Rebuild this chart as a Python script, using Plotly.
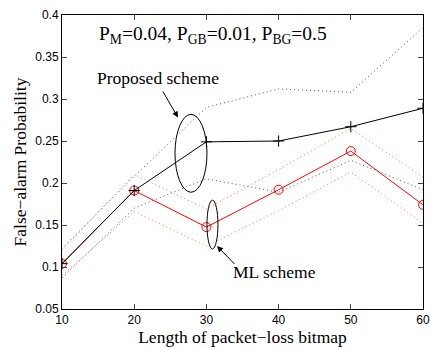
import plotly.graph_objects as go

# Bitmap lengths and false-alarm probabilities
lengths = [10, 20, 30, 40, 50, 60]
proposed = [0.104, 0.191, 0.249, 0.250, 0.267, 0.289]
proposed_upper = [0.122, 0.208, 0.290, 0.312, 0.308, 0.385]
proposed_lower = [0.087, 0.170, 0.205, 0.189, 0.227, 0.192]
ml = [0.104, 0.191, 0.1475, 0.192, 0.238, 0.174]
ml_upper = [0.120, 0.210, 0.169, 0.216, 0.265, 0.207]
ml_lower = [0.090, 0.166, 0.125, 0.167, 0.213, 0.152]

x_ticks = [10, 20, 30, 40, 50, 60]
y_ticks = [0.05, 0.1, 0.15, 0.2, 0.25, 0.3, 0.35, 0.4]
y_tick_text = ["0.05", "0.1", "0.15", "0.2", "0.25", "0.3", "0.35", "0.4"]

serif = "Liberation Serif"
sans = "Liberation Sans"

fig = go.Figure()

dot = "1px,3px"
for ys, col in [(proposed_upper, "#555555"), (proposed_lower, "#555555"),
                (ml_upper, "#ff6666"), (ml_lower, "#ff6666")]:
    fig.add_trace(go.Scatter(x=lengths, y=ys, mode="lines",
                             line=dict(color=col, width=1, dash=dot),
                             showlegend=False, hoverinfo="skip"))

fig.add_trace(go.Scatter(x=lengths, y=ml, mode="lines+markers",
                         line=dict(color="#ff0000", width=1),
                         marker=dict(symbol="circle-open", size=9,
                                     color="#ff0000", line=dict(width=1)),
                         showlegend=False))
fig.add_trace(go.Scatter(x=lengths, y=proposed, mode="lines+markers",
                         line=dict(color="#000000", width=1),
                         marker=dict(symbol="cross-thin-open", size=8,
                                     color="#000000", line=dict(width=1)),
                         showlegend=False))

# Ellipses grouping each scheme's curves
fig.add_shape(type="circle", xref="x", yref="y", x0=25.65, x1=30.08,
              y0=0.189, y1=0.2817, line=dict(color="black", width=1))
fig.add_shape(type="circle", xref="x", yref="y", x0=30.08, x1=31.6,
              y0=0.1215, y1=0.1796, line=dict(color="black", width=1))

fig.add_annotation(x=26.07, y=0.278, ax=23.85, ay=0.3107, xref="x", yref="y",
                   axref="x", ayref="y", showarrow=True, arrowhead=2,
                   arrowsize=1.2, arrowwidth=1, arrowcolor="black", text="")
fig.add_annotation(x=31.47, y=0.125, ax=34.1, ay=0.1018, xref="x", yref="y",
                   axref="x", ayref="y", showarrow=True, arrowhead=2,
                   arrowsize=1.2, arrowwidth=1, arrowcolor="black", text="")

fig.add_annotation(x=23.3, y=0.3245, xref="x", yref="y", showarrow=False,
                   text="Proposed scheme", font=dict(family=serif, size=17.5, color="black"))
fig.add_annotation(x=39.4, y=0.0935, xref="x", yref="y", showarrow=False,
                   text="ML scheme", font=dict(family=serif, size=17.5, color="black"))
fig.add_annotation(x=30.9, y=0.3765, xref="x", yref="y", showarrow=False,
                   text="P<sub>M</sub>=0.04, P<sub>GB</sub>=0.01, P<sub>BG</sub>=0.5",
                   font=dict(family=serif, size=19.5, color="black"))

fig.update_xaxes(range=[10, 60], tickvals=x_ticks, ticks="inside", ticklen=5,
                 showline=True, linecolor="black", linewidth=1, mirror="ticks",
                 showgrid=False, zeroline=False,
                 tickfont=dict(family=sans, size=12, color="black"),
                 title=dict(text="Length of packet\u2212loss bitmap",
                            font=dict(family=serif, size=17.5, color="black"),
                            standoff=1))
fig.update_yaxes(range=[0.05, 0.4], tickvals=y_ticks, ticktext=y_tick_text,
                 ticks="inside", ticklen=5,
                 showline=True, linecolor="black", linewidth=1, mirror="ticks",
                 showgrid=False, zeroline=False,
                 tickfont=dict(family=sans, size=12, color="black"),
                 title=dict(text="False\u2212alarm Probability",
                            font=dict(family=serif, size=17.5, color="black"),
                            standoff=4))

fig.update_layout(width=440, height=349,
                  margin=dict(l=62, r=17, t=8, b=39),
                  paper_bgcolor="white", plot_bgcolor="white")

fig.write_html("out.html")
